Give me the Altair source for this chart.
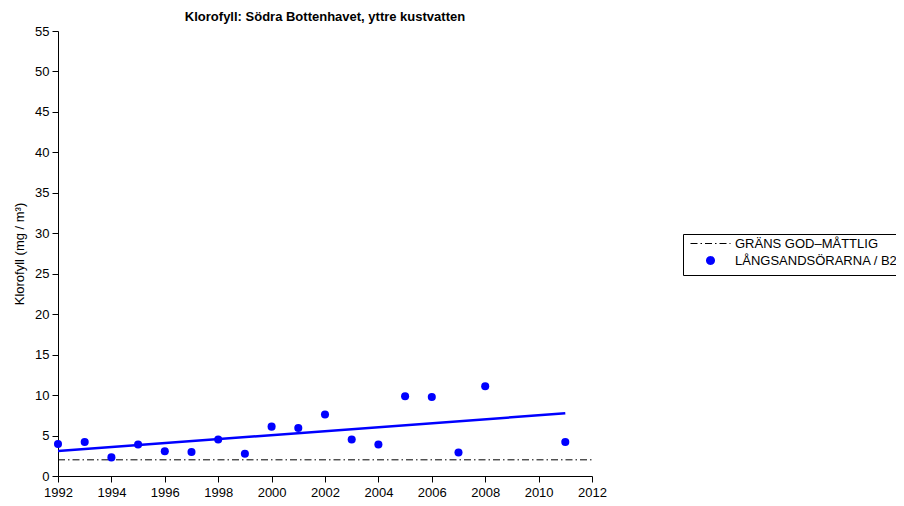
import math
import altair as alt
import pandas as pd

years = [1992, 1993, 1994, 1995, 1996, 1997, 1998, 1999, 2000, 2001,
         2002, 2003, 2004, 2005, 2006, 2007, 2008, 2011]
values = [3.95, 4.2, 2.3, 3.9, 3.05, 2.97, 4.5, 2.76, 6.1, 5.93,
          7.6, 4.5, 3.9, 9.85, 9.77, 2.9, 11.1, 4.2]
trend_years = [1992, 2011]
trend_values = [3.1, 7.75]
limit_years = [1992, 2012]
limit_values = [2.0, 2.0]
series_names = ["GRÄNS GOD–MÅTTLIG", "LÅNGSANDSÖRARNA / B2"]
series_colors = ["#000000", "#0000ff"]
x_ticks = list(range(1992, 2013, 2))
y_ticks = list(range(0, 56, 5))

FONT = "Liberation Sans"
DASH = [7, 3, 1.5, 3]

df_pts = pd.DataFrame({"year": years, "value": values})
df_lim = pd.DataFrame({"year": limit_years, "value": limit_values})
df_tr = pd.DataFrame({"year": trend_years, "value": trend_values})
df_key = pd.DataFrame({"series": pd.Series([], dtype=str)})

x_enc = alt.X("year:Q", scale=alt.Scale(domain=[1992, 2012], nice=False, zero=False),
              axis=alt.Axis(values=x_ticks, format="d", title=None, labelFlush=False,
                            labelPadding=4))
y_enc = alt.Y("value:Q", scale=alt.Scale(domain=[0, 55], nice=False),
              axis=alt.Axis(values=y_ticks, title="Klorofyll (mg / m³)"))

# legend glyphs (unit = sqrt(symbolSize)/2 px, centred on the symbol anchor)
c = 692.0
u = 4.0
lx0, lx1 = (690 - c) / u, (730 - c) / u
cx, r = (710 - c) / u, 2.25 / u
line_path = f"M{lx0:.3f},0H{lx1:.3f}"
pts = [(cx + r * math.cos(2 * math.pi * k / 16), r * math.sin(2 * math.pi * k / 16)) for k in range(16)]
dot_path = "M" + "L".join(f"{px:.3f},{py:.3f}" for px, py in pts) + "Z"

legend = alt.Legend(
    title=None, orient="none", legendX=625, legendY=203,
    strokeColor="black", padding=3, labelFont=FONT, labelFontSize=13,
    labelColor="black", symbolSize=64, rowPadding=-2, labelOffset=36,
    symbolOpacity=1, labelLimit=400,
)

key = alt.Chart(df_key).mark_point(filled=False, opacity=1).encode(
    color=alt.Color("series:N", scale=alt.Scale(domain=series_names, range=series_colors),
                    legend=legend),
    shape=alt.Shape("series:N", scale=alt.Scale(domain=series_names, range=[line_path, dot_path]),
                    legend=legend),
    strokeDash=alt.StrokeDash("series:N", scale=alt.Scale(domain=series_names, range=[DASH, [1, 0]]),
                              legend=legend),
    strokeWidth=alt.StrokeWidth("series:N", scale=alt.Scale(domain=series_names, range=[1, 4.5]),
                                legend=legend),
)

limit = alt.Chart(df_lim).mark_line(strokeWidth=1, strokeDash=DASH, color="#000000").encode(
    x=x_enc, y=y_enc)

points = alt.Chart(df_pts).mark_circle(size=65, opacity=1, color="#0000ff").encode(
    x=x_enc, y=y_enc)

trend = alt.Chart(df_tr).mark_line(color="#0000ff", strokeWidth=2.5).encode(x=x_enc, y=y_enc)

chart = alt.layer(limit, trend, points, key).properties(
    width=534, height=445,
    autosize=alt.AutoSizeParams(type="none"),
    padding={"left": 50, "top": 23, "right": 304, "bottom": 22},
    title=alt.Title("Klorofyll: Södra Bottenhavet, yttre kustvatten", font=FONT,
                    fontSize=13, fontWeight="bold", anchor="middle", offset=1, color="black"),
).configure_view(stroke=None).configure_axis(
    grid=False, domainColor="black", tickColor="black", labelColor="black",
    labelFont=FONT, labelFontSize=13, titleFont=FONT, titleFontSize=13,
    titleFontWeight="normal", titleColor="black", tickSize=6, labelPadding=3,
    domainWidth=1, tickWidth=1,
).configure_axisY(titlePadding=8)

chart.save("out.html", embed_options={"renderer": "svg", "actions": False})
